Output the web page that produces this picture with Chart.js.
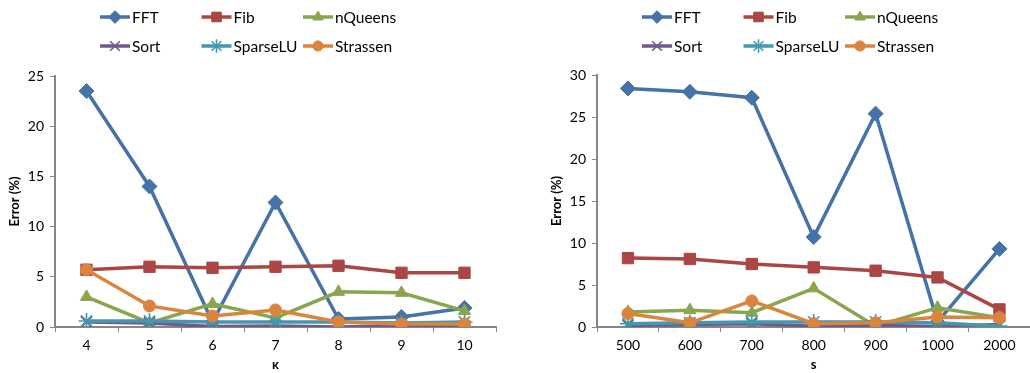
<!DOCTYPE html>
<html>
<head>
<meta charset="utf-8">
<script src="https://cdn.jsdelivr.net/npm/chart.js@4/dist/chart.umd.min.js"></script>
<style>
  html, body { margin: 0; padding: 0; background: #fff; width: 1030px; height: 373px; overflow: hidden; }
  .panel { position: absolute; top: 0; }
</style>
</head>
<body>
<div class="panel" style="left:0"><canvas id="chartK" width="520" height="373"></canvas></div>
<div class="panel" style="left:520px"><canvas id="chartS" width="520" height="373"></canvas></div>
<script>
// Category labels
const kLabels = ['4', '5', '6', '7', '8', '9', '10'];
const sLabels = ['500', '600', '700', '800', '900', '1000', '2000'];
const seriesNames = ['FFT', 'Fib', 'nQueens', 'Sort', 'SparseLU', 'Strassen'];

// Error (%) against K
const fftK      = [23.5, 14.0, 0.5, 12.4, 0.8, 1.0, 1.9];
const fibK      = [5.7, 6.0, 5.9, 6.0, 6.1, 5.4, 5.4];
const nQueensK  = [3.0, 0.4, 2.3, 0.9, 3.5, 3.4, 1.6];
const sortK     = [0.5, 0.4, 0.05, 0.1, 0.0, 0.1, 0.1];
const sparseLUK = [0.6, 0.6, 0.5, 0.5, 0.5, 0.4, 0.5];
const strassenK = [5.7, 2.1, 1.1, 1.7, 0.5, 0.3, 0.3];

// Error (%) against S
const fftS      = [28.4, 28.0, 27.3, 10.7, 25.4, 0.6, 9.3];
const fibS      = [8.2, 8.1, 7.5, 7.1, 6.7, 5.9, 2.1];
const nQueensS  = [1.8, 2.0, 1.7, 4.6, 0.1, 2.3, 1.1];
const sortS     = [0.2, 0.3, 0.4, 0.1, 0.2, 0.05, 0.3];
const sparseLUS = [0.4, 0.5, 0.6, 0.6, 0.6, 0.5, 0.1];
const strassenS = [1.6, 0.5, 3.1, 0.4, 0.5, 1.2, 1.1];

// Y axis ranges
const kYMax = 25;
const sYMax = 30;
const yStep = 5;

// Per-series appearance
const looks = [
  { color: '#4572A7', style: 'rectRot',  radius: 7.5, bw: 1 },
  { color: '#AA4643', style: 'rect',     radius: 8,   bw: 1 },
  { color: '#89A54E', style: 'triangle', radius: 7,   bw: 1 },
  { color: '#71588F', style: 'crossRot', radius: 8,   bw: 1.6 },
  { color: '#4198AF', style: 'star',     radius: 8,   bw: 1.6 },
  { color: '#DB843D', style: 'circle',   radius: 6,   bw: 1 }
];

const FONT = 'Lato, "Open Sans", "DejaVu Sans", sans-serif';
const AXIS_GREY = '#868686';

function makeDatasets(values) {
  return values.map((data, i) => ({
    label: seriesNames[i],
    data: data,
    borderColor: looks[i].color,
    backgroundColor: looks[i].color,
    borderWidth: 3.5,
    tension: 0,
    pointStyle: looks[i].style,
    pointRadius: looks[i].radius,
    pointHoverRadius: looks[i].radius,
    pointBorderWidth: looks[i].bw,
    pointBackgroundColor: looks[i].color,
    pointBorderColor: looks[i].color,
    order: values.length - 1 - i
  }));
}

// Two-row, three-column series key above the plot
const seriesKey = {
  id: 'seriesKey',
  afterDraw(chart) {
    const ctx = chart.ctx;
    const x0 = chart.chartArea.left + 45;
    ctx.save();
    chart.data.datasets.forEach((ds, i) => {
      const col = i % 3, row = Math.floor(i / 3);
      const x = x0 + col * 101.5;
      const y = row === 0 ? 17 : 46;
      ctx.strokeStyle = ds.borderColor;
      ctx.fillStyle = ds.borderColor;
      ctx.lineWidth = 3.5;
      ctx.beginPath();
      ctx.moveTo(x, y);
      ctx.lineTo(x + 30, y);
      ctx.stroke();
      ctx.lineWidth = ds.pointBorderWidth;
      Chart.helpers.drawPoint(ctx, {
        pointStyle: ds.pointStyle,
        radius: ds.pointRadius * 0.85,
        rotation: 0,
        borderWidth: ds.pointBorderWidth
      }, x + 15, y);
      ctx.fillStyle = '#000';
      ctx.font = '15.5px ' + FONT;
      ctx.textAlign = 'left';
      ctx.textBaseline = 'middle';
      ctx.fillText(ds.label, x + 32, y + 1);
    });
    ctx.restore();
  }
};

function makeChart(id, labels, values, yMax, xTitle, padding) {
  return new Chart(document.getElementById(id), {
    type: 'line',
    data: { labels: labels, datasets: makeDatasets(values) },
    plugins: [seriesKey],
    options: {
      responsive: false,
      animation: false,
      devicePixelRatio: 1,
      layout: { padding: padding },
      plugins: { legend: { display: false }, tooltip: { enabled: false } },
      scales: {
        x: {
          offset: true,
          grid: { offset: true, drawOnChartArea: false, drawTicks: true, tickLength: 5, color: AXIS_GREY, lineWidth: 1 },
          border: { color: AXIS_GREY, width: 2 },
          ticks: { color: '#000', font: { family: FONT, size: 14 }, padding: 5, maxRotation: 0 },
          title: { display: true, text: xTitle, color: '#000', font: { family: FONT, size: 13, weight: 'bold' }, padding: { top: 0, bottom: 0 } },
          afterFit(scale) { scale.height = 46; }
        },
        y: {
          min: 0,
          max: yMax,
          ticks: { stepSize: yStep, color: '#000', font: { family: FONT, size: 14 }, padding: 6 },
          grid: { drawOnChartArea: false, drawTicks: true, tickLength: 5, color: AXIS_GREY, lineWidth: 1 },
          border: { color: AXIS_GREY, width: 2 },
          title: { display: true, text: 'Error (%)', color: '#000', font: { family: FONT, size: 13, weight: 'bold' }, padding: { top: 7, bottom: 0 } },
          afterFit(scale) { scale.width = 55; }
        }
      }
    }
  });
}

makeChart('chartK', kLabels,
  [fftK, fibK, nQueensK, sortK, sparseLUK, strassenK],
  kYMax, 'κ', { top: 76, right: 24, left: 0, bottom: 0 });

makeChart('chartS', sLabels,
  [fftS, fibS, nQueensS, sortS, sparseLUS, strassenS],
  sYMax, 's', { top: 75, right: 4, left: 22, bottom: 0 });
</script>
</body>
</html>
